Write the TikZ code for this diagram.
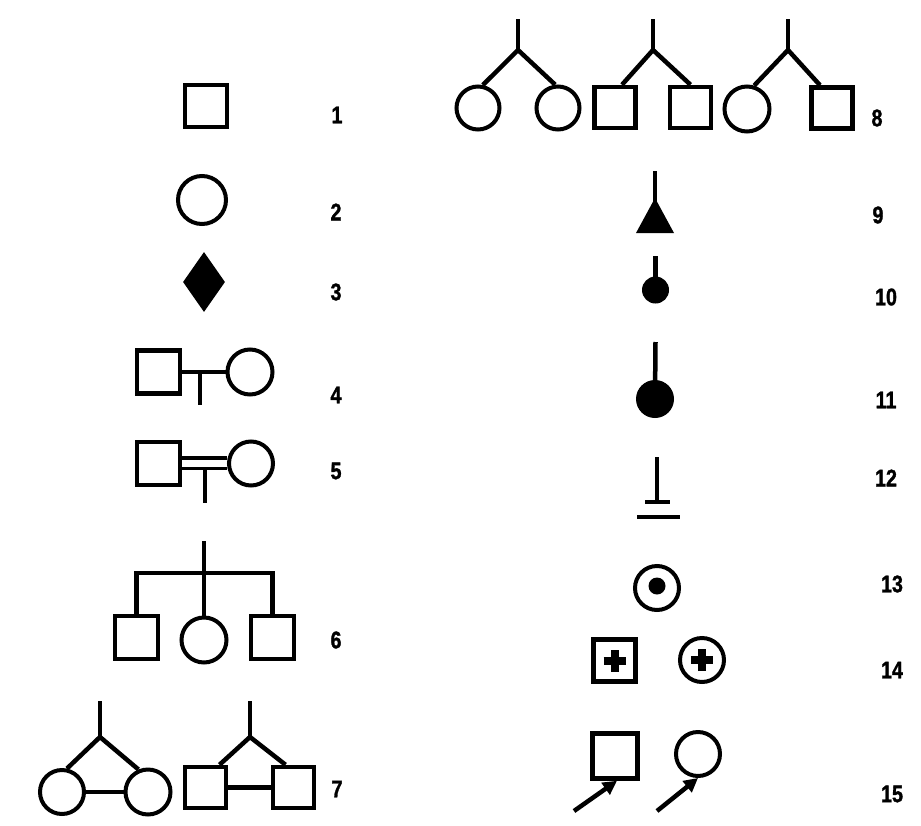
\documentclass[tikz,border=0pt]{standalone}
\usepackage{fontspec}
\setmainfont{Liberation Sans}
\newfontfamily\labfont{Liberation Sans}[BoldFeatures={FakeBold=1.5}]
\usetikzlibrary{shapes.geometric,arrows.meta}
\tikzset{
  sym/.style={line width=4.5pt},
  sq/.style={draw, rectangle, line width=4.5pt, minimum size=#1, inner sep=0pt},
  sq/.default=42pt,
  ci/.style={draw, circle, line width=4pt, minimum size=#1, inner sep=0pt},
  ci/.default=45pt,
  blob/.style={fill=black, circle, minimum size=#1, inner sep=0pt},
  lab/.style={font=\fontsize{24}{24}\labfont\bfseries, inner sep=0pt},
  plusbar/.style={line width=8pt},
  arr/.style={line width=4.5pt, -{Triangle[length=14pt,width=14pt]}}
}
\newcommand{\lbl}[1]{\scalebox{0.82}[1]{#1}}
\begin{document}
\begin{tikzpicture}[x=1pt,y=-1pt]
\useasboundingbox[fill=white] (0,0) rectangle (921,825);

% ---------- 1 ----------
\node[sq] (n1) at (206,106) {};
\node[lab] (l1) at (337,115) {\lbl{1}};
% ---------- 2 ----------
\node[ci=48pt] (n2) at (202,200) {};
\node[lab] (l2) at (336,212) {\lbl{2}};
% ---------- 3 ----------
\node[diamond, fill=black, minimum width=42pt, minimum height=60pt, inner sep=0pt] (n3) at (204,282) {};
\node[lab] (l3) at (336,292) {\lbl{3}};
% ---------- 4 ----------
\node[sq=43pt] (s4) at (158.5,372) {};
\node[ci=45pt] (c4) at (250,372) {};
\coordinate (m4) at (200,372);
\coordinate (d4) at (200,405);
\draw[sym] (s4.east) -- (c4.west);
\draw[sym] (m4) -- (d4);
\node[lab] (l4) at (336,395) {\lbl{4}};
% ---------- 5 ----------
\node[sq=43pt] (s5) at (158.5,463.5) {};
\node[ci=44pt] (c5) at (251,463.5) {};
\draw[line width=3.5pt] ([yshift=5.5pt]s5.east) -- ([yshift=5.5pt]c5.west);
\draw[line width=3.5pt] ([yshift=-5pt]s5.east) -- ([yshift=-5pt]c5.west);
\coordinate (m5) at (205,468);
\coordinate (d5) at (205,503);
\draw[sym] (m5) -- (d5);
\node[lab] (l5) at (336,471) {\lbl{5}};
% ---------- 6 ----------
\node[sq=43pt] (s6a) at (136.5,637.5) {};
\node[ci=45pt] (c6b) at (204,640) {};
\node[sq=43pt] (s6c) at (272.5,637.5) {};
\coordinate (r6) at (204,541);
\coordinate (t6) at (204,573);
\draw[sym] (s6a.north) |- (t6) -| (s6c.north);
\draw[sym] (r6) -- (t6) -- (c6b.north);
\node[lab] (l6) at (336,640) {\lbl{6}};
% ---------- 7 ----------
\node[ci=44pt] (c71) at (62,792) {};
\node[ci=45pt] (c72) at (148,792) {};
\coordinate (r71) at (100,701);
\coordinate (a71) at (100,737);
\draw[sym] (r71) -- (a71);
\draw[sym] (c71.78) -- (a71) -- (c72.113);
\draw[sym] (c71.east) -- (c72.west);
\node[sq=41pt] (s71) at (205.5,787.5) {};
\node[sq=41pt] (s72) at (293.5,787.5) {};
\coordinate (r72) at (250,701);
\coordinate (a72) at (250,737);
\draw[sym] (r72) -- (a72);
\draw[sym] ([xshift=14pt]s71.north) -- (a72) -- ([xshift=-8pt]s72.north);
\draw[sym] (s71.east) -- (s72.west);
\node[lab] (l7) at (337,789) {\lbl{7}};

% ---------- 8 ----------
\node[ci=43pt] (c81) at (478,108) {};
\node[ci=43pt] (c82) at (558,108) {};
\coordinate (r81) at (518,19);
\coordinate (a81) at (518,50);
\draw[sym] (r81) -- (a81);
\draw[sym] (c81.78) -- (a81) -- (c82.97);
\node[sq=41pt] (s81) at (615,107.5) {};
\node[sq=41pt] (s82) at (690.5,107.5) {};
\coordinate (r82) at (653,19);
\coordinate (a82) at (653,50);
\draw[sym] (r82) -- (a82);
\draw[sym] ([xshift=7pt]s81.north) -- (a82) -- (s82.north);
\node[ci=45pt] (c83) at (747,109) {};
\node[sq=41pt] (s83) at (832,108) {};
\coordinate (r83) at (788,19);
\coordinate (a83) at (788,50);
\draw[sym] (r83) -- (a83);
\draw[sym] (c83.73) -- (a83) -- ([xshift=-12pt]s83.north);
\node[lab] (l8) at (877,118) {\lbl{8}};
% ---------- 9 ----------
\coordinate (r9) at (655,171);
\coordinate (a9) at (655,203);
\draw[sym] (r9) -- (a9);
\fill (655,198) -- (674,233) -- (636,233) -- cycle;
\node[lab] (l9) at (878,215) {\lbl{9}};
% ---------- 10 ----------
\node[blob=27pt] (b10) at (655.5,290) {};
\coordinate (r10) at (655.5,256);
\draw[sym] (r10) -- (b10.center);
\node[lab] (l10) at (886,297) {\lbl{10}};
% ---------- 11 ----------
\node[blob=38pt] (b11) at (655,399) {};
\coordinate (r11) at (655.5,342);
\draw[sym] (r11) -- (b11.center);
\node[lab] (l11) at (886,400) {\lbl{11}};
% ---------- 12 ----------
\coordinate (r12) at (657,457);
\coordinate (t12) at (657,502);
\coordinate (tl12) at (645,502);
\coordinate (tr12) at (670,502);
\coordinate (ul12) at (637,517);
\coordinate (ur12) at (680,517);
\draw[sym] (r12) -- (t12);
\draw[sym] (tl12) -- (tr12);
\draw[line width=3.5pt] (ul12) -- (ur12);
\node[lab] (l12) at (886,478) {\lbl{12}};
% ---------- 13 ----------
\node[ci=44pt] (c13) at (657,588) {};
\node[blob=17pt] (d13) at (657,586) {};
\node[lab] (l13) at (892,584) {\lbl{13}};
% ---------- 14 ----------
\node[sq=42pt] (s14) at (614.5,660.5) {};
\node[ci=44pt] (c14) at (702,660) {};
\draw[plusbar] ([xshift=-11pt]s14.center) -- ([xshift=11pt]s14.center);
\draw[plusbar] ([yshift=-11pt]s14.center) -- ([yshift=11pt]s14.center);
\draw[plusbar] ([xshift=-11pt]c14.center) -- ([xshift=11pt]c14.center);
\draw[plusbar] ([yshift=-11pt]c14.center) -- ([yshift=11pt]c14.center);
\node[lab] (l14) at (892,670) {\lbl{14}};
% ---------- 15 ----------
\node[sq=45pt] (s15) at (615,756) {};
\node[ci=44pt] (c15) at (698,754) {};
\coordinate (f1) at (574,811);
\coordinate (f2) at (657,811);
\draw[arr] (f1) -- ([xshift=2pt]s15.south);
\draw[arr] (f2) -- (c15.south);
\node[lab] (l15) at (892,794) {\lbl{15}};
\end{tikzpicture}
\end{document}
